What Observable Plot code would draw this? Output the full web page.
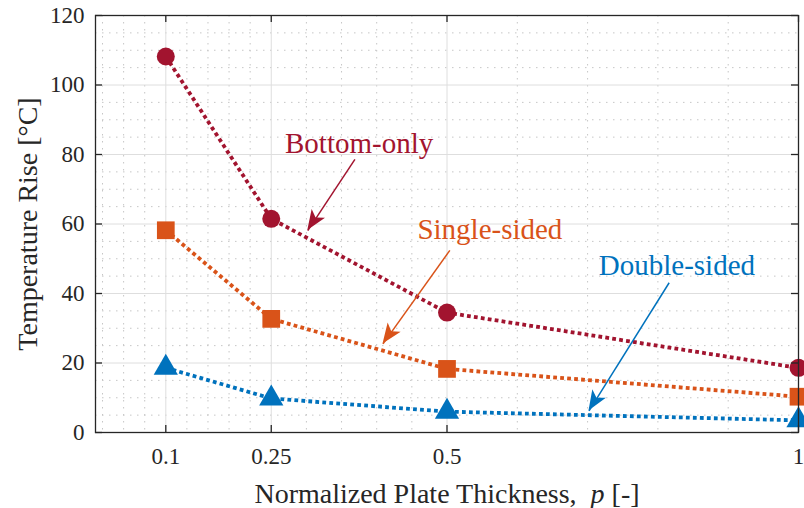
<!DOCTYPE html>
<html>
<head>
<meta charset="utf-8">
<script src="https://cdn.jsdelivr.net/npm/d3@7"></script>
<script src="https://cdn.jsdelivr.net/npm/@observablehq/plot@0.6"></script>
<style>
  html, body { margin: 0; padding: 0; background: #fff; }
  #chart svg { display: block; }
  #chart svg text { font-family: "Liberation Serif", serif; }
</style>
</head>
<body>
<div id="chart"></div>
<script>
// ---- data ----
const thickness = [0.1, 0.25, 0.5, 1];
const bottomOnly = [108.2, 61.5, 34.5, 18.6];
const singleSided = [58.2, 32.7, 18.3, 10.3];
const doubleSided = [18.6, 9.8, 6.0, 3.5];
const seriesNames = ["Bottom-only", "Single-sided", "Double-sided"];
const seriesColors = ["#A2142F", "#D95319", "#0072BD"];

// ticks
const xTicks = [0.1, 0.25, 0.5, 1];
const xTickLabels = ["0.1", "0.25", "0.5", "1"];
const xMinorTicks = [0.01, 0.04, 0.07, 0.13, 0.16, 0.19, 0.22, 0.3, 0.35, 0.4, 0.45, 0.6, 0.7, 0.8, 0.9];
const yTicks = [0, 20, 40, 60, 80, 100, 120];
const yMinorTicks = [5, 10, 15, 25, 30, 35, 45, 50, 55, 65, 70, 75, 85, 90, 95, 105, 110, 115];

// annotations (data units)
const labelX = [0.375, 0.561, 0.827];
const labelY = [83.2, 58.4, 48.0];
const arrowFromX = [0.369, 0.504, 0.816];
const arrowFromY = [78.6, 52.4, 43.1];
const arrowToX = [0.302, 0.409, 0.702];
const arrowToY = [58.1, 25.5, 6.2];

const xTitle = "Normalized Plate Thickness, p [-]";
const yTitle = "Temperature Rise [°C]";

// ---- build tables ----
const seriesValues = [bottomOnly, singleSided, doubleSided];
const rows = seriesNames.flatMap((s, k) => thickness.map((x, i) => ({series: s, x, y: seriesValues[k][i]})));
const notes = seriesNames.map((s, k) => ({
  series: s, lx: labelX[k], ly: labelY[k],
  x1: arrowFromX[k], y1: arrowFromY[k], x2: arrowToX[k], y2: arrowToY[k]
}));

const W = 804, H = 508, mL = 95, mR = 6, mT = 15, mB = 76;
const innerH = H - mT - mB, innerW = W - mL - mR;
const tickLen = 7;
const ink = "#262626";
const font = "Liberation Serif";

const colorScale = {domain: seriesNames, range: seriesColors};
const symbols = ["circle", "square", "triangle"];
const radii = [9, 10, 9];

const chart = Plot.plot({
  width: W, height: H,
  marginLeft: mL, marginRight: mR, marginTop: mT, marginBottom: mB,
  style: {fontFamily: font, fontSize: "23px", color: ink, background: "#fff", overflow: "visible"},
  x: {domain: [0, 1], label: null},
  y: {domain: [0, 120], label: null},
  color: colorScale,
  marks: [
    // minor grid
    Plot.ruleY(yMinorTicks, {stroke: "#c6c6c6", strokeWidth: 1, strokeDasharray: "1.5,5.5"}),
    Plot.ruleX(xMinorTicks, {stroke: "#c6c6c6", strokeWidth: 1, strokeDasharray: "1.5,5.5"}),
    // major grid
    Plot.ruleY(yTicks, {stroke: "#dedede", strokeWidth: 1}),
    Plot.ruleX(xTicks, {stroke: "#dedede", strokeWidth: 1}),
    // series lines
    Plot.line(rows, {x: "x", y: "y", z: "series", stroke: "series", strokeWidth: 3.8, strokeDasharray: "3.8,3.2", strokeLinecap: "butt"}),
    // markers
    ...seriesNames.map((s, k) => Plot.dot(rows, {
      filter: d => d.series === s, x: "x", y: "y", symbol: symbols[k], r: radii[k],
      fill: seriesColors[k], stroke: "none"
    })),
    // annotation arrows (shafts)
    Plot.link(notes, {x1: "x1", y1: "y1", x2: "x2", y2: "y2", stroke: "series", strokeWidth: 1.5}),
    // annotation labels
    Plot.text(notes, {x: "lx", y: "ly", text: "series", fill: "series", fontSize: 29, fontFamily: font}),
    // frame
    Plot.frame({stroke: ink, strokeWidth: 1.3}),
    // inward ticks
    Plot.ruleX(xTicks, {stroke: ink, strokeWidth: 1.3, insetBottom: innerH - tickLen}),
    Plot.ruleX(xTicks, {stroke: ink, strokeWidth: 1.3, insetTop: innerH - tickLen}),
    Plot.ruleY(yTicks, {stroke: ink, strokeWidth: 1.3, insetRight: innerW - tickLen}),
    Plot.ruleY(yTicks, {stroke: ink, strokeWidth: 1.3, insetLeft: innerW - tickLen}),
    // axes
    Plot.axisX(xTicks, {tickSize: 0, tickPadding: 15, tickFormat: (d) => xTickLabels[xTicks.indexOf(d)], fontSize: 23, fontFamily: font, label: null, fill: ink}),
    Plot.axisY(yTicks, {tickSize: 0, tickPadding: 11, fontSize: 23, fontFamily: font, label: null, fill: ink}),
    // titles
    Plot.text([xTitle], {frameAnchor: "bottom", dy: 62, textAnchor: "middle", lineAnchor: "middle", text: d => d, fontSize: 28, fill: ink, fontFamily: font}),
    Plot.text([yTitle], {frameAnchor: "left", dx: -67, textAnchor: "middle", lineAnchor: "middle", rotate: -90, text: d => d, fontSize: 28, fill: ink, fontFamily: font})
  ]
});

document.getElementById("chart").appendChild(chart);

// filled arrowheads using the chart's own scales
const sx = chart.scale("x"), sy = chart.scale("y");
const svg = d3.select(chart);
const headG = svg.append("g").attr("class", "arrowheads");
notes.forEach((n, k) => {
  const ax = sx.apply(n.x1), ay = sy.apply(n.y1);
  const bx = sx.apply(n.x2), by = sy.apply(n.y2);
  const dx = bx - ax, dy = by - ay, len = Math.hypot(dx, dy);
  const ux = dx / len, uy = dy / len, px = -uy, py = ux;
  const L = 20, Wd = 8, notch = 5;
  const pts = [
    [bx, by],
    [bx - ux * L + px * Wd, by - uy * L + py * Wd],
    [bx - ux * (L - notch), by - uy * (L - notch)],
    [bx - ux * L - px * Wd, by - uy * L - py * Wd]
  ];
  headG.append("polygon").attr("points", pts.map(p => p.join(",")).join(" ")).attr("fill", seriesColors[k]);
});

// italic "p" in the x title
svg.selectAll("text").each(function() {
  const t = d3.select(this);
  if (t.text() === xTitle) {
    t.text(null);
    t.append("tspan").text("Normalized Plate Thickness,  ");
    t.append("tspan").attr("font-style", "italic").text("p");
    t.append("tspan").text(" [-]");
  }
});
</script>
</body>
</html>
